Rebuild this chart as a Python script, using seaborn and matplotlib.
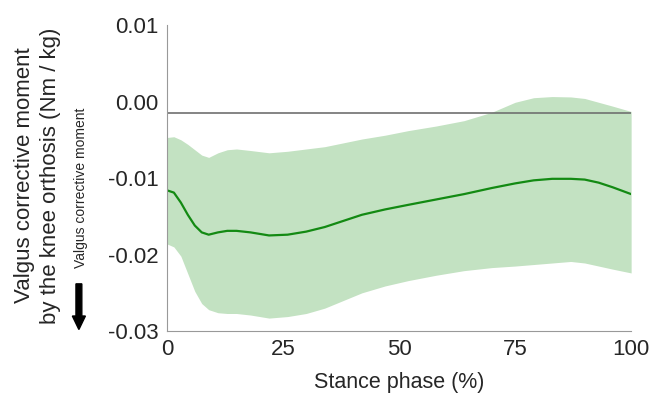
import seaborn as sns
import matplotlib.pyplot as plt
import pandas as pd

stance = [0, 1.5, 3, 4.5, 6, 7.5, 9, 11, 13, 15, 18, 22, 26, 30, 34, 38, 42, 47, 52, 58,
          64, 70, 75, 79, 83, 87, 90, 93, 96, 100]
mean_moment = [-0.0116, -0.0119, -0.0132, -0.0148, -0.0162, -0.0171, -0.0174, -0.0171, -0.0169, -0.0169,
               -0.0171, -0.0175, -0.0174, -0.0170, -0.0164, -0.0156, -0.0148, -0.0141, -0.0135, -0.0128,
               -0.0121, -0.0113, -0.0107, -0.0103, -0.0101, -0.0101, -0.0102, -0.0106, -0.0112, -0.0121]
upper = [-0.0047, -0.0046, -0.0050, -0.0056, -0.0063, -0.0070, -0.0073, -0.0067, -0.0063, -0.0062,
         -0.0064, -0.0067, -0.0065, -0.0062, -0.0059, -0.0054, -0.0049, -0.0044, -0.0038, -0.0032,
         -0.0025, -0.0014, -0.0001, 0.0005, 0.00065, 0.0006, 0.0004, -0.0001, -0.0006, -0.0013]
lower = [-0.0186, -0.0190, -0.0202, -0.0225, -0.0248, -0.0264, -0.0272, -0.0276, -0.0277, -0.0277,
         -0.0279, -0.0283, -0.0281, -0.0277, -0.0270, -0.0260, -0.0250, -0.0241, -0.0234, -0.0227,
         -0.0221, -0.0217, -0.0215, -0.0213, -0.0211, -0.0209, -0.0211, -0.0215, -0.0219, -0.0224]
ref_level = -0.0015
yticks = [0.01, 0.0, -0.01, -0.02, -0.03]
ytick_labels = ["0.01", "0.00", "-0.01", "-0.02", "-0.03"]
xticks = [0, 25, 50, 75, 100]

sns.set_style("white")
plt.rcParams["font.family"] = ["Liberation Sans", "DejaVu Sans"]

df = pd.DataFrame({"stance": stance, "mean": mean_moment, "upper": upper, "lower": lower})

fig = plt.figure(figsize=(6.52, 3.97), dpi=100)
ax = fig.add_axes([0.256, 0.166, 0.712, 0.771])

ax.fill_between(df["stance"], df["lower"], df["upper"], color="#c3e2c2", linewidth=0)
ax.axhline(ref_level, color="#707070", lw=1.2)
sns.lineplot(data=df, x="stance", y="mean", color="#138a13", lw=1.6, ax=ax)

ax.set_xlim(0, 100)
ax.set_ylim(-0.03, 0.01)
ax.set_xticks(xticks)
ax.set_xticklabels([str(t) for t in xticks])
ax.set_yticks(yticks)
ax.set_yticklabels(ytick_labels)
ax.tick_params(axis="both", direction="out", length=5, width=0.8, color="#999999",
               labelsize=16, pad=1)
for side in ["top", "right"]:
    ax.spines[side].set_visible(False)
for side in ["left", "bottom"]:
    ax.spines[side].set_color("#999999")
    ax.spines[side].set_linewidth(0.8)

ax.set_xlabel("Stance phase (%)", fontsize=15.5, labelpad=8)
ax.set_ylabel("")

fig.text(0.057, 0.558, "Valgus corrective moment\nby the knee orthosis (Nm / kg)",
         rotation=90, ha="center", va="center", fontsize=16, linespacing=1.3)
fig.text(0.124, 0.526, "Valgus corrective moment", rotation=90, ha="center", va="center",
         fontsize=10)
fig.patches.append(plt.matplotlib.patches.FancyArrow(
    0.121, 0.285, 0, -0.115, width=0.009, head_width=0.02, head_length=0.034,
    length_includes_head=True, color="black", transform=fig.transFigure, figure=fig))

fig.savefig("out.png", dpi=100)
